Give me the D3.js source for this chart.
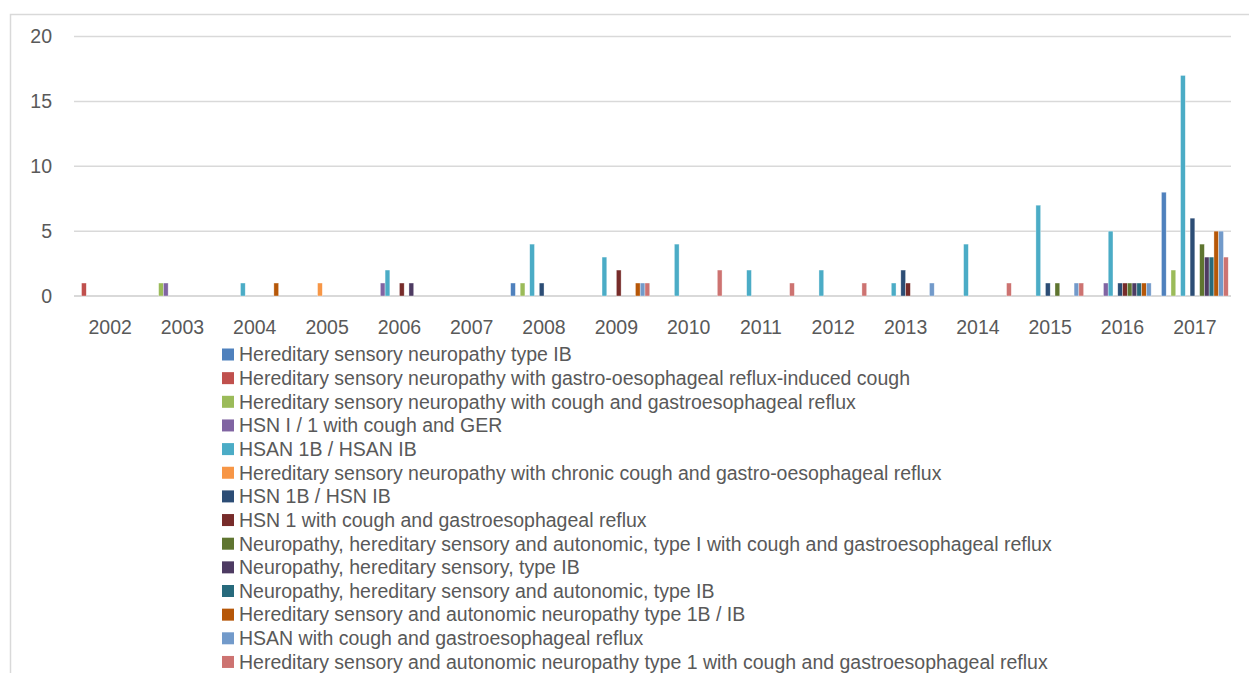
<html>
<head>
<meta charset="utf-8">
<title>Chart</title>
<script src="https://d3js.org/d3.v7.min.js"></script>
<style>
  body { margin: 0; background: #fff; }
  text { font-family: "Liberation Sans", Arial, sans-serif; fill: #595959; }
</style>
</head>
<body>
<div id="chart"></div>
<script>
// categories
var years = ["2002","2003","2004","2005","2006","2007","2008","2009","2010","2011","2012","2013","2014","2015","2016","2017"];

// series names
var seriesNames = [
  "Hereditary sensory neuropathy type IB",
  "Hereditary sensory neuropathy with gastro-oesophageal reflux-induced cough",
  "Hereditary sensory neuropathy with cough and gastroesophageal reflux",
  "HSN I / 1 with cough and GER",
  "HSAN 1B / HSAN IB",
  "Hereditary sensory neuropathy with chronic cough and gastro-oesophageal reflux",
  "HSN 1B / HSN IB",
  "HSN 1 with cough and gastroesophageal reflux",
  "Neuropathy, hereditary sensory and autonomic, type I with cough and gastroesophageal reflux",
  "Neuropathy, hereditary sensory, type IB",
  "Neuropathy, hereditary sensory and autonomic, type IB",
  "Hereditary sensory and autonomic neuropathy type 1B / IB",
  "HSAN with cough and gastroesophageal reflux",
  "Hereditary sensory and autonomic neuropathy type 1 with cough and gastroesophageal reflux"
];

// series values, one per year 2002..2017
var s0  = [0,0,0,0,0,0,1,0,0,0,0,0,0,0,0,8];
var s1  = [1,0,0,0,0,0,0,0,0,0,0,0,0,0,0,0];
var s2  = [0,1,0,0,0,0,1,0,0,0,0,0,0,0,0,2];
var s3  = [0,1,0,0,1,0,0,0,0,0,0,0,0,0,1,0];
var s4  = [0,0,1,0,2,0,4,3,4,2,2,1,4,7,5,17];
var s5  = [0,0,0,1,0,0,0,0,0,0,0,0,0,0,0,0];
var s6  = [0,0,0,0,0,0,1,0,0,0,0,2,0,1,1,6];
var s7  = [0,0,0,0,1,0,0,2,0,0,0,1,0,0,1,0];
var s8  = [0,0,0,0,0,0,0,0,0,0,0,0,0,1,1,4];
var s9  = [0,0,0,0,1,0,0,0,0,0,0,0,0,0,1,3];
var s10 = [0,0,0,0,0,0,0,0,0,0,0,0,0,0,1,3];
var s11 = [0,0,1,0,0,0,0,1,0,0,0,0,0,0,1,5];
var s12 = [0,0,0,0,0,0,0,1,0,0,0,1,0,1,1,5];
var s13 = [0,0,0,0,0,0,0,1,2,1,1,0,1,1,0,3];

var seriesValues = [s0,s1,s2,s3,s4,s5,s6,s7,s8,s9,s10,s11,s12,s13];

var colors = ["#4F81BD","#C0504D","#9BBB59","#8064A2","#4BACC6","#F79646",
              "#2C4D75","#772C2A","#5F7530","#4D3B62","#276A7C","#B65708",
              "#729ACA","#CD7371"];

var yTicks = [0,5,10,15,20];

var width = 1249, height = 673;
var plotLeft = 74, plotRight = 1231, plotTop = 36.5, plotBottom = 296;

var svg = d3.select("#chart")
    .append("svg")
    .attr("width", width)
    .attr("height", height);

// outer chart border
svg.append("rect")
    .attr("x", 10.5).attr("y", 14.5)
    .attr("width", 1300).attr("height", 700)
    .attr("fill", "none")
    .attr("stroke", "#d9d9d9")
    .attr("stroke-width", 1.5);

var x0 = d3.scaleBand().domain(years).range([plotLeft, plotRight]);
var gap = x0.bandwidth() * 0.038;
var x1 = d3.scaleBand().domain(d3.range(seriesNames.length))
    .range([gap, x0.bandwidth() - gap]);

var y = d3.scaleLinear().domain([0, 20]).range([plotBottom, plotTop]);

// gridlines
svg.append("g")
  .selectAll("line")
  .data(yTicks)
  .enter()
  .append("line")
    .attr("x1", plotLeft).attr("x2", plotRight)
    .attr("y1", function(d) { return y(d); })
    .attr("y2", function(d) { return y(d); })
    .attr("stroke", "#d9d9d9")
    .attr("stroke-width", function(d) { return d == 0 ? 2 : 1.5; });

// y labels
svg.append("g")
  .selectAll("text")
  .data(yTicks)
  .enter()
  .append("text")
    .attr("x", 52)
    .attr("y", function(d) { return y(d); })
    .attr("dy", "0.35em")
    .attr("text-anchor", "end")
    .style("font-size", "19.5px")
    .text(function(d) { return d; });

// x labels
svg.append("g")
  .selectAll("text")
  .data(years)
  .enter()
  .append("text")
    .attr("x", function(d) { return x0(d) + x0.bandwidth() / 2; })
    .attr("y", 327)
    .attr("dy", "0.35em")
    .attr("text-anchor", "middle")
    .style("font-size", "19.5px")
    .text(function(d) { return d; });

// bars
var bars = [];
seriesValues.forEach(function(vals, s) {
  vals.forEach(function(v, i) {
    if (v > 0) bars.push({ year: years[i], s: s, v: v });
  });
});

svg.append("g")
  .selectAll("rect")
  .data(bars)
  .enter()
  .append("rect")
    .attr("x", function(d) { return x0(d.year) + x1(d.s); })
    .attr("y", function(d) { return y(d.v); })
    .attr("width", x1.bandwidth())
    .attr("height", function(d) { return y(0) - y(d.v); })
    .attr("fill", function(d) { return colors[d.s]; })
    .attr("stroke", "rgba(255,255,255,0.6)")
    .attr("stroke-width", 0.6);

// legend
var legend = svg.append("g")
  .selectAll("g")
  .data(seriesNames)
  .enter()
  .append("g")
    .attr("transform", function(d, i) { return "translate(222," + (354.5 + i * 23.65) + ")"; });

legend.append("rect")
    .attr("x", 0).attr("y", -6)
    .attr("width", 12).attr("height", 12)
    .attr("fill", function(d, i) { return colors[i]; });

legend.append("text")
    .attr("x", 17)
    .attr("y", 0)
    .attr("dy", "0.35em")
    .style("font-size", "19.5px")
    .text(function(d) { return d; });
</script>
</body>
</html>
